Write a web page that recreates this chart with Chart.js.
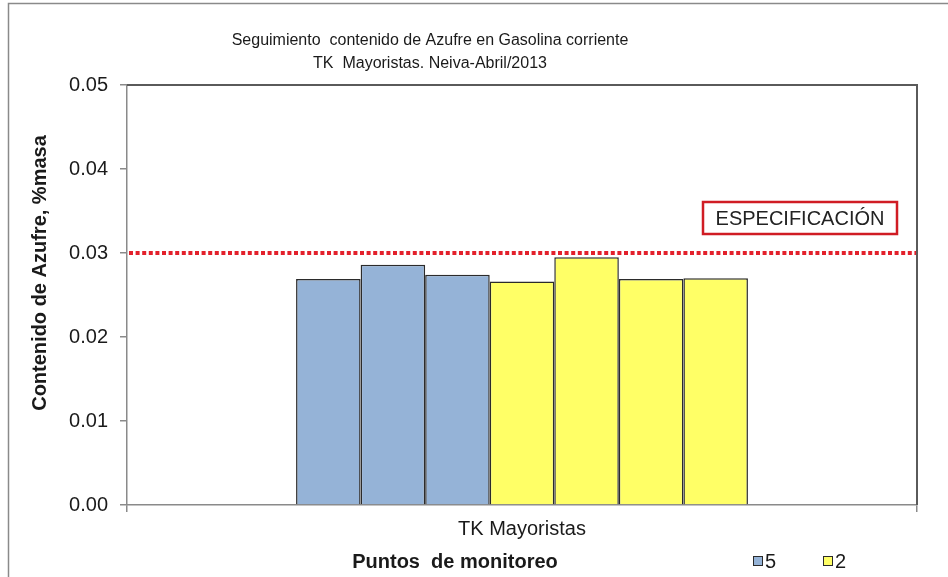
<!DOCTYPE html>
<html>
<head>
<meta charset="utf-8">
<script src="https://cdn.jsdelivr.net/npm/chart.js"></script>
<style>
  body { margin: 0; background: #fff; }
  #wrap { width: 948px; height: 577px; }
</style>
</head>
<body>
<div id="wrap"><canvas id="chart" width="948" height="577"></canvas></div>
<script>
const categories = ['TK Mayoristas'];
const seriesNames = ['5', '5', '5', '2', '2', '2', '2'];
const seriesValues = [0.0269, 0.0286, 0.0274, 0.0266, 0.0295, 0.0269, 0.0270];
const yTicks = [0, 0.01, 0.02, 0.03, 0.04, 0.05];
const specValue = 0.03;
const specLabel = 'ESPECIFICACIÓN';
const titleLines = ['Seguimiento  contenido de Azufre en Gasolina corriente', 'TK  Mayoristas. Neiva-Abril/2013'];
const yTitle = 'Contenido de Azufre, %masa';
const xTitle = 'Puntos  de monitoreo';

const FONT = "'Liberation Sans', Arial, sans-serif";
const colorFor = { '5': '#95B3D7', '2': '#FFFF66' };

const datasets = seriesNames.map((name, i) => ({
    label: name,
    data: [seriesValues[i]],
    backgroundColor: colorFor[name],
    borderColor: '#2b2b2b',
    borderWidth: 1.5,
    categoryPercentage: 0.572,
    barPercentage: 1
}));

// textos, linea de especificacion, leyenda y marcos
const overlay = {
    id: 'overlay',
    beforeDraw(chart) {
        const ctx = chart.ctx;
        ctx.save();
        ctx.fillStyle = '#fff';
        ctx.fillRect(0, 0, chart.width, chart.height);
        ctx.strokeStyle = '#8a8a8a';
        ctx.lineWidth = 1.5;
        ctx.beginPath();
        ctx.moveTo(8.5, chart.height);
        ctx.lineTo(8.5, 3.5);
        ctx.lineTo(chart.width, 3.5);
        ctx.stroke();
        ctx.restore();
    },
    afterDraw(chart) {
        const ctx = chart.ctx;
        const area = chart.chartArea;
        const y = chart.scales.y;
        ctx.save();

        // marco superior y derecho del area
        ctx.strokeStyle = '#5a5a5a';
        ctx.lineWidth = 2;
        ctx.beginPath();
        ctx.moveTo(area.left, area.top);
        ctx.lineTo(area.right, area.top);
        ctx.lineTo(area.right, area.bottom);
        ctx.stroke();

        // linea de especificacion
        const sy = y.getPixelForValue(specValue);
        ctx.strokeStyle = '#e3202b';
        ctx.lineWidth = 4;
        ctx.setLineDash([4, 2.6]);
        ctx.beginPath();
        ctx.moveTo(area.left + 2, sy);
        ctx.lineTo(area.right - 1, sy);
        ctx.stroke();
        ctx.setLineDash([]);

        // recuadro ESPECIFICACION
        const bx = 703, bw = 194, by = sy - 51, bh = 32;
        ctx.strokeStyle = '#d01c24';
        ctx.lineWidth = 2.5;
        ctx.strokeRect(bx, by, bw, bh);
        ctx.fillStyle = '#222';
        ctx.font = '20px ' + FONT;
        ctx.textAlign = 'center';
        ctx.textBaseline = 'middle';
        ctx.fillText(specLabel, bx + bw / 2, by + bh / 2 + 1);

        // titulo
        ctx.font = '16px ' + FONT;
        ctx.fillStyle = '#1a1a1a';
        titleLines.forEach((t, i) => ctx.fillText(t, 430, 41 + i * 23));

        // titulo eje y
        ctx.font = 'bold 20px ' + FONT;
        ctx.save();
        ctx.translate(40, 273);
        ctx.rotate(-Math.PI / 2);
        ctx.fillText(yTitle, 0, 0);
        ctx.restore();

        // titulo eje x
        ctx.fillText(xTitle, 455, 562);

        // leyenda
        const items = [...new Set(seriesNames)];
        ctx.font = '20px ' + FONT;
        ctx.textAlign = 'left';
        items.forEach((name, i) => {
            const lx = 753 + i * 70;
            ctx.fillStyle = colorFor[name];
            ctx.fillRect(lx, 556, 10, 10);
            ctx.strokeStyle = '#2b2b2b';
            ctx.lineWidth = 1;
            ctx.strokeRect(lx + 0.5, 556.5, 9, 9);
            ctx.fillStyle = '#1a1a1a';
            ctx.fillText(name, lx + 12, 562);
        });
        ctx.restore();
    }
};

new Chart(document.getElementById('chart'), {
    type: 'bar',
    data: { labels: categories, datasets: datasets },
    options: {
        responsive: false,
        animation: false,
        devicePixelRatio: 1,
        layout: { padding: { top: 85, right: 31, bottom: 0, left: 0 } },
        plugins: {
            legend: { display: false },
            title: { display: false },
            tooltip: { enabled: false }
        },
        scales: {
            x: {
                afterFit: (s) => { s.height = 72; },
                grid: { display: true, drawOnChartArea: false, drawTicks: true, tickLength: 7, color: '#8a8a8a', lineWidth: 1.5 },
                border: { color: '#8a8a8a', width: 1.5 },
                ticks: { color: '#1a1a1a', padding: 5, font: { family: FONT, size: 20 } }
            },
            y: {
                min: 0,
                max: 0.05,
                afterFit: (s) => { s.width = 127; },
                afterBuildTicks: (s) => { s.ticks = yTicks.map(v => ({ value: v })); },
                grid: { display: true, drawOnChartArea: false, drawTicks: true, tickLength: 7, color: '#8a8a8a', lineWidth: 1.5 },
                border: { color: '#8a8a8a', width: 1.5 },
                ticks: {
                    color: '#1a1a1a',
                    padding: 12,
                    font: { family: FONT, size: 20 },
                    callback: (v) => Number(v).toFixed(2)
                }
            }
        }
    },
    plugins: [overlay]
});
</script>
</body>
</html>
